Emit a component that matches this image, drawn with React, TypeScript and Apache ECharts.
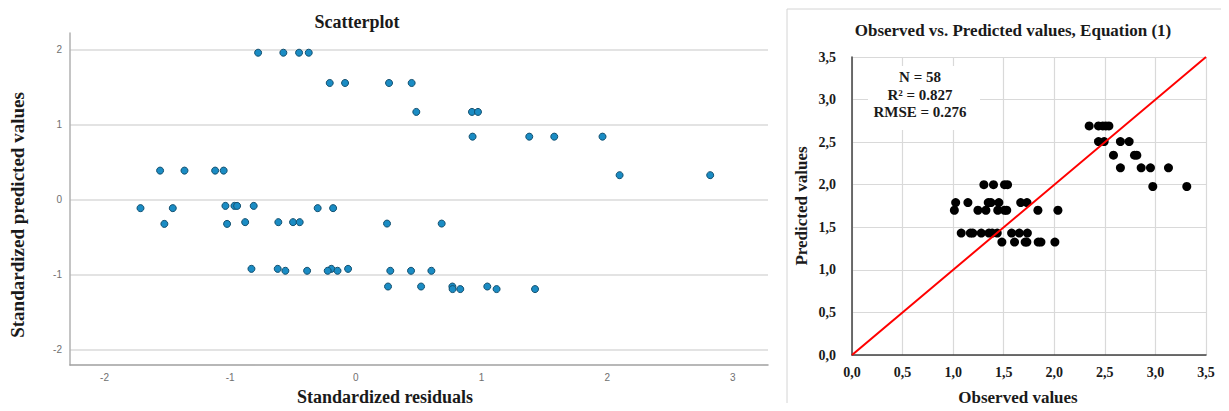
import React, { useEffect, useRef } from "react";
import * as echarts from "echarts";

// Left panel: standardized residuals (x) vs standardized predicted values (y)
const leftResiduals = [
  -0.778, -0.577, -0.452, -0.375,
  -0.208, -0.086, 0.264, 0.444,
  0.481, 0.924, 0.972,
  0.929, 1.38, 1.579, 1.963,
  2.099, 2.82,
  -1.558, -1.364, -1.12, -1.052,
  -1.714, -1.457, -0.304, -0.181,
  -1.038, -0.966, -0.945, -0.813,
  -1.524, -1.025, 0.248, 0.683,
  -0.881, -0.617, -0.5, -0.447,
  -0.831, -0.622, -0.195, -0.062,
  -0.561, -0.388, -0.224, -0.146, 0.274, 0.439, 0.601,
  0.256, 0.519, 0.768, 1.046,
  0.77, 0.831, 1.12, 1.426,
];
const leftPredicted = [
  1.957, 1.957, 1.957, 1.957,
  1.553, 1.553, 1.553, 1.553,
  1.167, 1.167, 1.167,
  0.837, 0.837, 0.837, 0.837,
  0.323, 0.323,
  0.384, 0.384, 0.384, 0.384,
  -0.117, -0.117, -0.117, -0.117,
  -0.087, -0.087, -0.087, -0.087,
  -0.327, -0.327, -0.323, -0.323,
  -0.304, -0.304, -0.304, -0.304,
  -0.927, -0.927, -0.927, -0.927,
  -0.953, -0.953, -0.953, -0.953, -0.953, -0.953, -0.953,
  -1.163, -1.163, -1.163, -1.163,
  -1.197, -1.197, -1.197, -1.197,
];
const leftXTicks = [-2, -1, 0, 1, 2, 3];
const leftYTicks = [-2, -1, 0, 1, 2];

// Right panel: observed vs predicted
const observed = [
  1.304, 1.399, 1.508, 1.538,
  1.025, 1.146, 1.347, 1.374, 1.452, 1.668, 1.73,
  1.012, 1.245, 1.324, 1.441, 1.508, 1.53, 1.838, 2.036,
  1.08, 1.17, 1.194, 1.278, 1.354, 1.386, 1.436, 1.578, 1.654, 1.734,
  1.482, 1.607, 1.712, 1.729, 1.841, 1.868, 2.006,
  2.345, 2.437, 2.48, 2.51, 2.54,
  2.437, 2.493, 2.654, 2.74,
  2.585, 2.793, 2.816,
  2.654, 2.859, 2.951, 3.129,
  2.974, 3.31,
];
const predicted = [
  2.0, 2.0, 2.0, 2.0,
  1.79, 1.79, 1.79, 1.79, 1.79, 1.79, 1.79,
  1.70, 1.70, 1.70, 1.70, 1.70, 1.70, 1.70, 1.70,
  1.432, 1.432, 1.432, 1.432, 1.432, 1.432, 1.432, 1.432, 1.432, 1.432,
  1.326, 1.326, 1.326, 1.326, 1.326, 1.326, 1.326,
  2.691, 2.691, 2.691, 2.691, 2.691,
  2.507, 2.507, 2.507, 2.507,
  2.347, 2.347, 2.347,
  2.198, 2.198, 2.198, 2.198,
  1.979, 1.979,
];
const identityLine = [0, 3.5];
const statsLines = ["N = 58", "R\u00B2 = 0.827", "RMSE = 0.276"];

const SERIF = "'Liberation Serif', 'DejaVu Serif', serif";
const SANS = "'Liberation Sans', Arial, sans-serif";

export default function App() {
  const ref = useRef<HTMLDivElement>(null);
  useEffect(() => {
    if (!ref.current) return;
    const chart = echarts.init(ref.current, undefined, { renderer: "svg" });
    const fmt = (v: number) => v.toFixed(1).replace(".", ",");
    const option: any = {
      animation: false,
      backgroundColor: "#ffffff",
      title: [
        {
          text: "Scatterplot",
          left: 352,
          top: 8,
          textAlign: "center",
          textStyle: { fontFamily: SERIF, fontWeight: "bold", fontSize: 18, color: "#1a1a1a" },
        },
        {
          text: "Observed vs. Predicted values, Equation (1)",
          left: 1008,
          top: 17,
          textAlign: "center",
          textStyle: { fontFamily: SERIF, fontWeight: "bold", fontSize: 17, color: "#1a1a1a" },
        },
      ],
      grid: [
        { left: 70, right: 461, top: 33, bottom: 46, containLabel: false },
        { left: 852, right: 23, top: 57, bottom: 56, containLabel: false },
      ],
      xAxis: [
        {
          type: "value",
          gridIndex: 0,
          min: -2.275,
          max: 3.28,
          axisLine: { show: true, onZero: false, lineStyle: { color: "#a0a0a0", width: 1.5 } },
          axisTick: { show: false, customValues: leftXTicks },
          axisLabel: { customValues: leftXTicks, color: "#707070", fontFamily: SANS, fontSize: 10, margin: 7 },
          splitLine: { show: false },
        },
        {
          type: "value",
          gridIndex: 1,
          min: 0,
          max: 3.5,
          interval: 0.5,
          axisLine: { show: true, onZero: false, lineStyle: { color: "#404040", width: 1.5 } },
          axisTick: { show: false },
          axisLabel: { formatter: fmt, color: "#1a1a1a", fontFamily: SERIF, fontWeight: "bold", fontSize: 14, margin: 10 },
          splitLine: { show: true, lineStyle: { color: "#d9d9d9", width: 1.2 } },
        },
      ],
      yAxis: [
        {
          type: "value",
          gridIndex: 0,
          min: -2.21,
          max: 2.22,
          axisLine: { show: true, onZero: false, lineStyle: { color: "#b0b0b0", width: 1.5 } },
          axisTick: { show: false, customValues: leftYTicks },
          axisLabel: { customValues: leftYTicks, color: "#707070", fontFamily: SANS, fontSize: 10, margin: 8 },
          splitLine: { show: true, lineStyle: { color: "#dadada", width: 1.5 } },
        },
        {
          type: "value",
          gridIndex: 1,
          min: 0,
          max: 3.5,
          interval: 0.5,
          name: "Predicted values",
          nameLocation: "middle",
          nameGap: 42,
          nameTextStyle: { fontFamily: SERIF, fontWeight: "bold", fontSize: 17, color: "#1a1a1a" },
          axisLine: { show: true, onZero: false, lineStyle: { color: "#404040", width: 1.5 } },
          axisTick: { show: false },
          axisLabel: { formatter: fmt, color: "#1a1a1a", fontFamily: SERIF, fontWeight: "bold", fontSize: 14, margin: 16 },
          splitLine: { show: true, lineStyle: { color: "#d9d9d9", width: 1.2 } },
        },
      ],
      graphic: [
        {
          type: "rect",
          shape: { x: 787, y: 9, width: 441, height: 420 },
          style: { fill: "none", stroke: "#d4d4d4", lineWidth: 1 },
          silent: true,
          z: 0,
        },
        {
          type: "text",
          x: 17,
          y: 215,
          rotation: Math.PI / 2,
          style: {
            text: "Standardized predicted values",
            fill: "#1a1a1a",
            font: `bold 19px ${SERIF}`,
            align: "center",
            verticalAlign: "middle",
          },
        },
        {
          type: "text",
          x: 385,
          y: 397,
          style: {
            text: "Standardized residuals",
            fill: "#1a1a1a",
            font: `bold 18px ${SERIF}`,
            align: "center",
            verticalAlign: "middle",
          },
        },
        {
          type: "text",
          x: 1018,
          y: 397,
          style: {
            text: "Observed values",
            fill: "#1a1a1a",
            font: `bold 17px ${SERIF}`,
            align: "center",
            verticalAlign: "middle",
          },
        },
        {
          type: "rect",
          shape: { x: 868, y: 66, width: 112, height: 64 },
          style: { fill: "#ffffff" },
          silent: true,
          z: 5,
        },
        ...statsLines.map((t, i) => ({
          type: "text",
          x: 920,
          y: 77 + i * 17.5,
          z: 6,
          style: {
            text: t,
            fill: "#1a1a1a",
            font: `bold 15px ${SERIF}`,
            align: "center",
            verticalAlign: "middle",
          },
        })),
      ],
      series: [
        {
          type: "scatter",
          xAxisIndex: 0,
          yAxisIndex: 0,
          symbolSize: 7,
          itemStyle: { color: "#1a8cc4", borderColor: "#14506f", borderWidth: 1, opacity: 1 },
          data: leftResiduals.map((x, i) => [x, leftPredicted[i]]),
        },
        {
          type: "scatter",
          xAxisIndex: 1,
          yAxisIndex: 1,
          symbolSize: 9,
          itemStyle: { color: "#000000", opacity: 1 },
          data: observed.map((x, i) => [x, predicted[i]]),
        },
        {
          type: "line",
          xAxisIndex: 1,
          yAxisIndex: 1,
          symbol: "none",
          lineStyle: { color: "#ff0000", width: 2 },
          z: 3,
          data: identityLine.map((v) => [v, v]),
        },
      ],
    };
    chart.setOption(option);
    return () => chart.dispose();
  }, []);
  return <div ref={ref} style={{ width: 1229, height: 411, margin: -8 }} />;
}
